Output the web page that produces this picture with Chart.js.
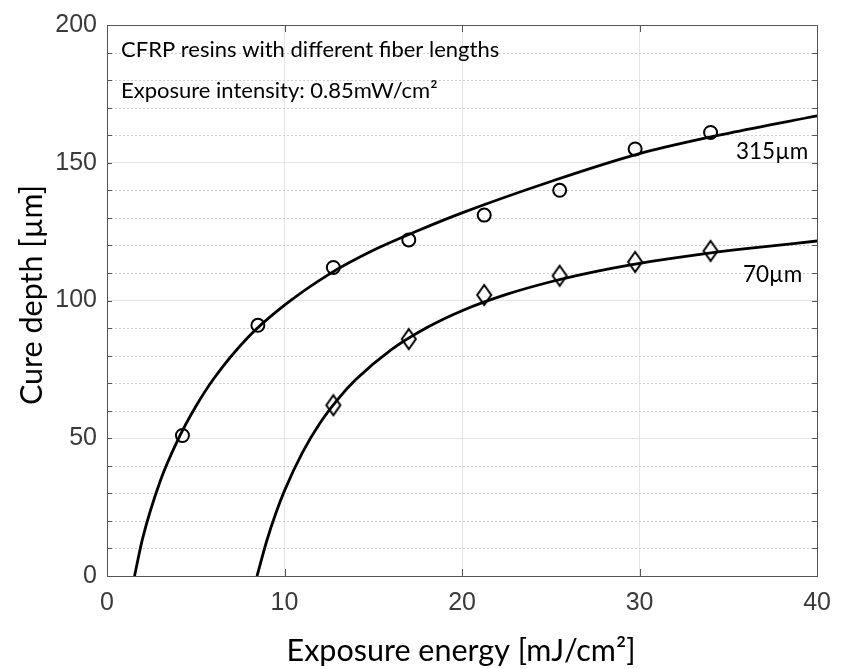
<!DOCTYPE html>
<html>
<head>
<meta charset="utf-8">
<script src="https://cdn.jsdelivr.net/npm/chart.js@4.4.1/dist/chart.umd.min.js"></script>
<style>
  html, body { margin: 0; padding: 0; background: #fff; }
  canvas { display: block; }
</style>
</head>
<body>
<canvas id="cureChart" width="843" height="669"></canvas>
<script>
// measured points (circles = 315um, diamonds = 70um)
const energy315 = [4.25, 8.5, 12.75, 17, 21.25, 25.5, 29.75, 34];
const depth315 = [51, 91, 112, 122, 131, 140, 155, 161];
const energy70 = [12.75, 17, 21.25, 25.5, 29.75, 34];
const depth70 = [62, 86, 102, 109, 114, 118];

// fitted curves
const fitX315 = [1.55, 2, 3, 4, 5, 6, 8, 10, 12.5, 15, 17.5, 20, 25, 30, 35, 40];
const fitY315 = [0, 13.5, 34.5, 49.5, 61.5, 71.5, 87, 98.3, 109.5, 118.2, 125.3, 131.8, 143.2, 153.3, 160.7, 167];
const fitX70 = [8.45, 9, 9.5, 10, 11, 12, 13, 14, 16, 18, 20, 22.5, 25, 27.5, 30, 33, 36, 40];
const fitY70 = [0, 12.8, 22.6, 31.0, 44.7, 55.5, 64.1, 71.2, 82.1, 90.1, 96.3, 102.2, 106.8, 110.5, 113.5, 116.4, 118.8, 121.6];

const xTicks = [0, 10, 20, 30, 40];
const yTicks = [0, 50, 100, 150, 200];

const toPoints = (xs, ys) => xs.map((x, i) => ({ x: x, y: ys[i] }));

// diamond marker (taller than wide)
const diamond = document.createElement("canvas");
diamond.width = 18;
diamond.height = 24;
(function() {
    const c = diamond.getContext("2d");
    c.strokeStyle = "#000";
    c.lineWidth = 2;
    c.beginPath();
    c.moveTo(9, 2);
    c.lineTo(16, 12);
    c.lineTo(9, 22);
    c.lineTo(2, 12);
    c.closePath();
    c.stroke();
})();

const textFont = "Lato, 'Open Sans', sans-serif";

const decorations = {
    id: "decorations",
    beforeDatasetsDraw(chart) {
        const { ctx, chartArea: a, scales: { y } } = chart;
        ctx.save();
        // minor dotted grid every 10
        ctx.strokeStyle = "#cfcfcf";
        ctx.lineWidth = 1;
        ctx.setLineDash([2, 2]);
        for (let v = 10; v < 200; v += 10) {
            if (v % 50 === 0) continue;
            const py = Math.round(y.getPixelForValue(v)) + 0.5;
            ctx.beginPath();
            ctx.moveTo(a.left, py);
            ctx.lineTo(a.right, py);
            ctx.stroke();
        }
        ctx.restore();
    },
    afterDatasetsDraw(chart) {
        const { ctx, chartArea: a, scales: { x, y } } = chart;
        ctx.save();
        ctx.strokeStyle = "#555";
        ctx.lineWidth = 1;
        ctx.strokeRect(Math.round(a.left) + 0.5, Math.round(a.top) + 0.5,
            Math.round(a.right - a.left), Math.round(a.bottom - a.top));
        // inward ticks
        ctx.beginPath();
        for (let v = 10; v < 200; v += 10) {
            const py = Math.round(y.getPixelForValue(v)) + 0.5;
            ctx.moveTo(a.left, py); ctx.lineTo(a.left + 5, py);
            ctx.moveTo(a.right, py); ctx.lineTo(a.right - 5, py);
        }
        for (let v = 10; v < 40; v += 10) {
            const px = Math.round(x.getPixelForValue(v)) + 0.5;
            ctx.moveTo(px, a.bottom); ctx.lineTo(px, a.bottom - 7);
            ctx.moveTo(px, a.top); ctx.lineTo(px, a.top + 7);
        }
        ctx.stroke();

        ctx.fillStyle = "#000";
        ctx.textBaseline = "alphabetic";
        ctx.textAlign = "left";
        ctx.font = "22px " + textFont;
        ctx.fillText("CFRP resins with different fiber lengths", 121, 57);
        ctx.fillText("Exposure intensity: 0.85mW/cm²", 121, 98);
        ctx.font = "22.5px " + textFont;
        ctx.fillText("315µm", 736, 159);
        ctx.fillText("70µm", 743, 282);

        // axis titles
        ctx.textAlign = "center";
        ctx.font = "30.5px " + textFont;
        ctx.fillText("Exposure energy [mJ/cm²]", 461, 661);
        ctx.translate(42, 295);
        ctx.rotate(-Math.PI / 2);
        ctx.fillText("Cure depth [µm]", 0, 0);
        ctx.restore();
    }
};

const ctx = document.getElementById("cureChart").getContext("2d");
new Chart(ctx, {
    type: "scatter",
    data: {
        datasets: [
            {
                label: "315µm fit",
                data: toPoints(fitX315, fitY315),
                showLine: true,
                borderColor: "#000",
                borderWidth: 2.8,
                pointRadius: 0,
                cubicInterpolationMode: "monotone"
            },
            {
                label: "70µm fit",
                data: toPoints(fitX70, fitY70),
                showLine: true,
                borderColor: "#000",
                borderWidth: 2.8,
                pointRadius: 0,
                cubicInterpolationMode: "monotone"
            },
            {
                label: "315µm",
                data: toPoints(energy315, depth315),
                pointStyle: "circle",
                pointRadius: 6.5,
                pointBorderWidth: 2,
                borderColor: "#000",
                backgroundColor: "rgba(255,255,255,0)"
            },
            {
                label: "70µm",
                data: toPoints(energy70, depth70),
                pointStyle: diamond,
                pointRadius: 9
            }
        ]
    },
    options: {
        responsive: false,
        animation: false,
        events: [],
        layout: {
            autoPadding: false,
            padding: { top: 18, right: 23, left: 0, bottom: 0 }
        },
        plugins: {
            legend: { display: false },
            tooltip: { enabled: false }
        },
        scales: {
            x: {
                type: "linear",
                min: 0,
                max: 40,
                afterBuildTicks: (s) => { s.ticks = xTicks.map(v => ({ value: v })); },
                afterFit: (s) => { s.height = 93; },
                ticks: {
                    font: { family: "'Liberation Sans', Arial", size: 25 },
                    color: "#3a3a3a",
                    padding: 12
                },
                grid: { color: "#e4e4e4", drawTicks: false },
                border: { display: false }
            },
            y: {
                type: "linear",
                min: 0,
                max: 200,
                afterBuildTicks: (s) => { s.ticks = yTicks.map(v => ({ value: v })); },
                afterFit: (s) => { s.width = 107; },
                ticks: {
                    font: { family: "'Liberation Sans', Arial", size: 25 },
                    color: "#3a3a3a",
                    padding: 10
                },
                grid: { color: "#e4e4e4", drawTicks: false },
                border: { display: false }
            }
        }
    },
    plugins: [decorations]
});
</script>
</body>
</html>
